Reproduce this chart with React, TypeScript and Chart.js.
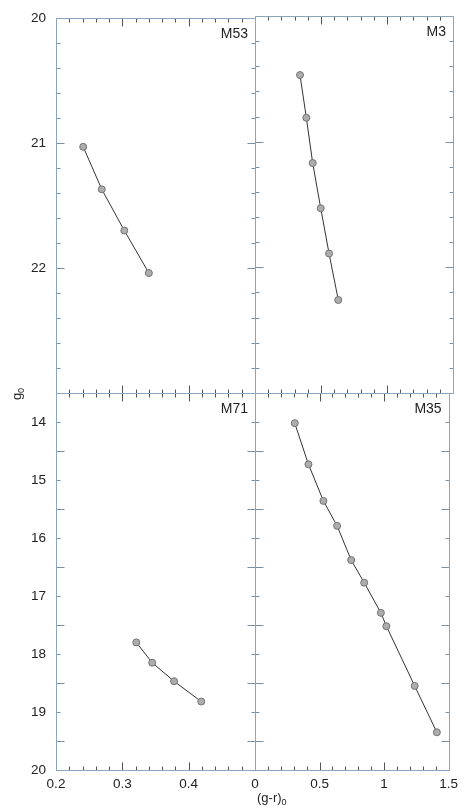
import React, { useEffect, useRef } from 'react';
import { Chart, registerables } from 'chart.js';

Chart.register(...registerables);

// ---- data ----
const clusterNames = ['M53', 'M3', 'M71', 'M35'];

const m53X = [0.241, 0.269, 0.303, 0.340];
const m53Y = [21.03, 21.37, 21.70, 22.04];

const m3X = [0.341, 0.389, 0.437, 0.498, 0.561, 0.631];
const m3Y = [20.47, 20.81, 21.17, 21.53, 21.89, 22.26];

const m71X = [0.321, 0.345, 0.378, 0.419];
const m71Y = [17.80, 18.15, 18.47, 18.82];

const m35X = [0.308, 0.414, 0.530, 0.636, 0.745, 0.846, 0.975, 1.018, 1.237, 1.409];
const m35Y = [14.02, 14.73, 15.36, 15.79, 16.38, 16.77, 17.29, 17.52, 18.55, 19.35];

// tick labels
const yLabelsTop = [20, 21, 22];
const yLabelsBottom = [14, 15, 16, 17, 18, 19, 20];
const xLabelsLeft = [0.2, 0.3, 0.4];
const xLabelsRight = [0, 0.5, 1, 1.5];

// axis ranges
const yRangeTop = [20, 23];
const yRangeBottom = [13.5, 20];
const xRangeLeft = [0.2, 0.5];
const xRangeRight = [0, 1.5];

// tick spacing (major, minor)
const xStepLeft = [0.1, 0.02];
const xStepRight = [0.5, 0.1];
const yStepTop = [1, 0.2];
const yStepBottom = [1, 0.5];

const FONT = '"Liberation Sans", Arial, Helvetica, sans-serif';

function steps(range: number[], step: number): number[] {
  const out: number[] = [];
  const n = Math.round((range[1] - range[0]) / step);
  for (let i = 0; i <= n; i++) out.push(+(range[0] + i * step).toFixed(6));
  return out;
}

const frameTicks = {
  id: 'frameTicks',
  afterDraw(chart: any, _args: any, opts: any) {
    const { ctx, chartArea: a, scales } = chart;
    const xs = scales.x;
    const ys = scales.y;
    ctx.save();
    ctx.lineWidth = 1;
    const L = Math.round(a.left) + 0.5;
    const R = Math.round(a.right) + 0.5;
    const T = Math.round(a.top) + 0.5;
    const B = Math.round(a.bottom) + 0.5;

    // x ticks on top and bottom, inward
    ctx.strokeStyle = '#555555';
    const drawX = (vals: number[], len: number) => {
      ctx.beginPath();
      vals.forEach((v) => {
        const p = Math.round(xs.getPixelForValue(v)) + 0.5;
        if (p <= L + 1 || p >= R - 1) return;
        ctx.moveTo(p, T);
        ctx.lineTo(p, T + len);
        ctx.moveTo(p, B);
        ctx.lineTo(p, B - len);
      });
      ctx.stroke();
    };
    drawX(steps(opts.xRange, opts.xStep[1]), 4);
    drawX(steps(opts.xRange, opts.xStep[0]), 8);

    // y ticks on left and right, inward
    ctx.strokeStyle = '#7391ab';
    const drawY = (vals: number[], len: number) => {
      ctx.beginPath();
      vals.forEach((v) => {
        const p = Math.round(ys.getPixelForValue(v)) + 0.5;
        if (p <= T + 1 || p >= B - 1) return;
        ctx.moveTo(L, p);
        ctx.lineTo(L + len, p);
        ctx.moveTo(R, p);
        ctx.lineTo(R - len, p);
      });
      ctx.stroke();
    };
    drawY(steps(opts.yRange, opts.yStep[1]), 4);
    drawY(steps(opts.yRange, opts.yStep[0]), 8);

    // frame
    ctx.strokeStyle = '#8aa5bd';
    ctx.strokeRect(L, T, R - L, B - T);

    // panel name
    ctx.fillStyle = '#222222';
    ctx.font = '14px ' + FONT;
    ctx.textAlign = 'right';
    ctx.textBaseline = 'alphabetic';
    ctx.fillText(opts.name, a.right - 7, a.top + 20);
    ctx.restore();
  },
};

type Panel = {
  name: string;
  xs: number[];
  ys: number[];
  xRange: number[];
  yRange: number[];
  xStep: number[];
  yStep: number[];
  xLabels: number[] | null;
  yLabels: number[] | null;
  padding: { left: number; top: number; right: number; bottom: number };
};

const panels: Panel[] = [
  {
    name: clusterNames[0], xs: m53X, ys: m53Y, xRange: xRangeLeft, yRange: yRangeTop,
    xStep: xStepLeft, yStep: yStepTop, xLabels: null, yLabels: yLabelsTop,
    padding: { left: 0, top: 16, right: 209, bottom: 419 },
  },
  {
    name: clusterNames[1], xs: m3X, ys: m3Y, xRange: xRangeRight, yRange: yRangeTop,
    xStep: xStepRight, yStep: yStepTop, xLabels: null, yLabels: null,
    padding: { left: 255, top: 16, right: 11, bottom: 419 },
  },
  {
    name: clusterNames[2], xs: m71X, ys: m71Y, xRange: xRangeLeft, yRange: yRangeBottom,
    xStep: xStepLeft, yStep: yStepBottom, xLabels: xLabelsLeft, yLabels: yLabelsBottom,
    padding: { left: 0, top: 393, right: 209, bottom: 12 },
  },
  {
    name: clusterNames[3], xs: m35X, ys: m35Y, xRange: xRangeRight, yRange: yRangeBottom,
    xStep: xStepRight, yStep: yStepBottom, xLabels: xLabelsRight, yLabels: null,
    padding: { left: 255, top: 393, right: 11, bottom: 12 },
  },
];

function makeConfig(p: Panel): any {
  const showX = !!p.xLabels;
  const showY = !!p.yLabels;
  return {
    type: 'scatter',
    data: {
      datasets: [
        {
          data: p.xs.map((x, i) => ({ x, y: p.ys[i] })),
          showLine: true,
          borderColor: '#333333',
          borderWidth: 1,
          tension: 0,
          pointRadius: 3.5,
          pointBackgroundColor: '#adadad',
          pointBorderColor: '#727272',
          pointBorderWidth: 1,
        },
      ],
    },
    options: {
      responsive: false,
      animation: false,
      events: [],
      layout: { padding: p.padding },
      plugins: {
        legend: { display: false },
        tooltip: { enabled: false },
        frameTicks: {
          name: p.name, xRange: p.xRange, yRange: p.yRange, xStep: p.xStep, yStep: p.yStep,
        },
      },
      scales: {
        x: {
          type: 'linear',
          min: p.xRange[0],
          max: p.xRange[1],
          display: showX,
          grid: { display: false, drawTicks: false },
          border: { display: false },
          afterFit: (s: any) => { s.height = showX ? 30 : 0; },
          afterBuildTicks: (s: any) => {
            s.ticks = (p.xLabels || []).map((v) => ({ value: v }));
          },
          ticks: {
            autoSkip: false,
            maxRotation: 0,
            padding: 6,
            color: '#222222',
            font: { family: FONT, size: 13.5 },
            callback: (v: any) => String(v),
          },
        },
        y: {
          type: 'linear',
          min: p.yRange[0],
          max: p.yRange[1],
          reverse: true,
          display: showY,
          grid: { display: false, drawTicks: false },
          border: { display: false },
          afterFit: (s: any) => { s.width = showY ? 56 : 0; },
          afterBuildTicks: (s: any) => {
            s.ticks = (p.yLabels || []).map((v) => ({ value: v }));
          },
          ticks: {
            autoSkip: false,
            padding: 10,
            color: '#222222',
            font: { family: FONT, size: 13.5 },
            callback: (v: any) => String(v),
          },
        },
      },
    },
    plugins: [frameTicks],
  };
}

export default function App() {
  const refs = useRef<(HTMLCanvasElement | null)[]>([]);

  useEffect(() => {
    const charts = panels.map((p, i) => new Chart(refs.current[i] as HTMLCanvasElement, makeConfig(p)));
    return () => charts.forEach((c) => c.destroy());
  }, []);

  return (
    <div style={{ position: 'absolute', left: 0, top: 0, width: 464, height: 812, background: '#ffffff' }}>
      {panels.map((p, i) => (
        <canvas
          key={p.name}
          ref={(el) => { refs.current[i] = el; }}
          width={464}
          height={812}
          style={{ position: 'absolute', left: 0, top: 0, width: 464, height: 812 }}
        />
      ))}
      <div
        style={{
          position: 'absolute', left: 257, top: 790, fontFamily: FONT, fontSize: 13,
          lineHeight: '15px', color: '#222', whiteSpace: 'nowrap',
        }}
      >
        (g-r)<span style={{ fontSize: 9, position: 'relative', top: 3 }}>0</span>
      </div>
      <div
        style={{
          position: 'absolute', left: 5, top: 386, width: 24, height: 16, fontFamily: FONT,
          fontSize: 13, lineHeight: '16px', color: '#222', textAlign: 'center', whiteSpace: 'nowrap',
          transform: 'rotate(-90deg)', transformOrigin: '50% 50%',
        }}
      >
        g<span style={{ fontSize: 9, position: 'relative', top: 3 }}>0</span>
      </div>
    </div>
  );
}
